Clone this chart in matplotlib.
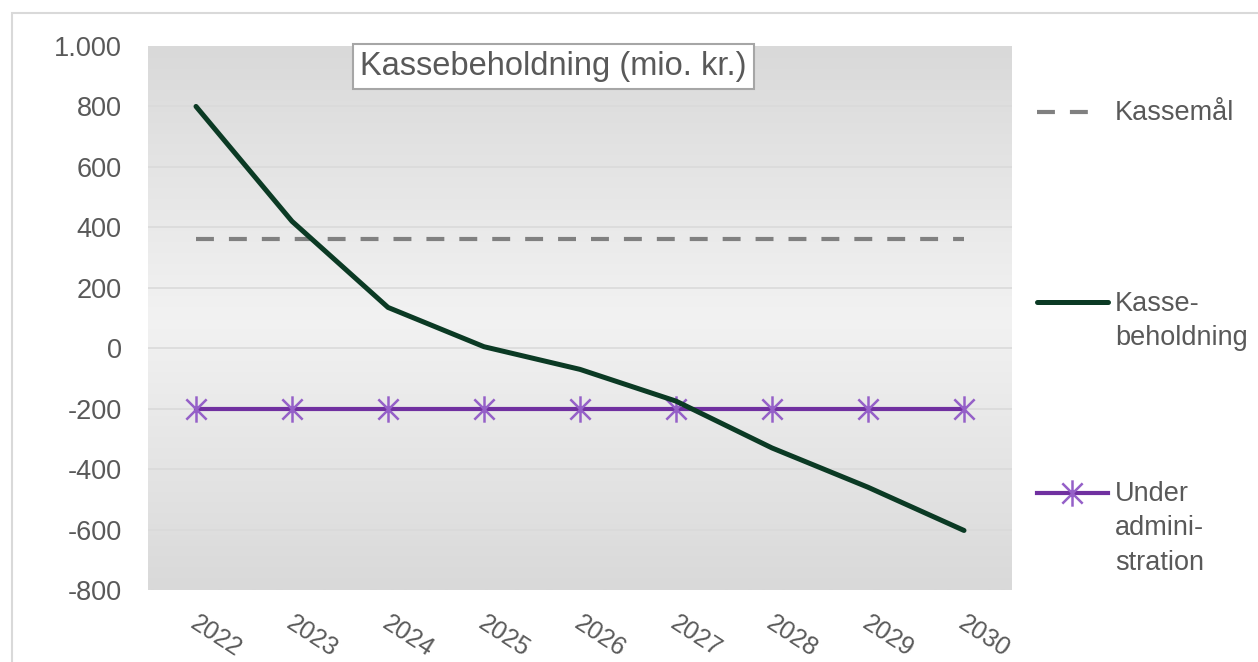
import numpy as np
import matplotlib
matplotlib.use("Agg")
import matplotlib.pyplot as plt
from matplotlib.colors import LinearSegmentedColormap
from matplotlib.lines import Line2D
from matplotlib.patches import Rectangle
from matplotlib.path import Path
from matplotlib.ticker import FuncFormatter
from matplotlib.transforms import ScaledTranslation

plt.rcParams["font.family"] = ["Liberation Sans", "DejaVu Sans"]

# data
years = ["2022", "2023", "2024", "2025", "2026", "2027", "2028", "2029", "2030"]
kassebeholdning = [800, 420, 135, 5, -70, -175, -330, -460, -603]
kassemaal = [360] * 9
under_admin = [-200] * 9

text_col = "#595959"
green = "#0b3a24"
purple = "#7030a0"
marker_col = "#9560c8"

fig = plt.figure(figsize=(12.58, 6.62), dpi=100)
fig.patches.append(Rectangle((12 / 1258, -0.05), 1.1, 1 - 13 / 662 + 0.05,
                             transform=fig.transFigure, fill=False,
                             edgecolor="#d9d9d9", lw=1.5))

ax = fig.add_axes([148 / 1258, 1 - 590 / 662, 864 / 1258, 544 / 662])
x = np.arange(len(years))

# gradient plot background: grey at edges, light in the middle
cmap = LinearSegmentedColormap.from_list("bg", ["#d9d9d9", "#f2f2f2", "#d9d9d9"])
grad = np.linspace(0, 1, 256).reshape(-1, 1)
ax.imshow(grad, cmap=cmap, extent=[0, 1, 0, 1], transform=ax.transAxes,
          aspect="auto", zorder=0)

for v in range(-600, 1001, 200):
    ax.axhline(v, color="#dadada", lw=1.2, zorder=1)

# asterisk marker: X plus vertical bar
star = Path([(-1, -1), (1, 1), (-1, 1), (1, -1), (0, -1.3), (0, 1.3)],
            [Path.MOVETO, Path.LINETO, Path.MOVETO, Path.LINETO, Path.MOVETO, Path.LINETO])

ax.plot(x, kassemaal, color="#808080", lw=3, dashes=(4.3, 3.6), zorder=2)
ax.plot(x, under_admin, color=purple, lw=3, marker=star, markersize=19,
        markeredgecolor=marker_col, markeredgewidth=1.8, zorder=3)
ax.plot(x, kassebeholdning, color=green, lw=3.6, solid_capstyle="round",
        solid_joinstyle="round", zorder=4)

ax.set_xlim(-0.5, len(years) - 0.5)
ax.set_ylim(-800, 1000)
ax.set_yticks(range(-800, 1001, 200))
ax.yaxis.set_major_formatter(FuncFormatter(lambda v, p: f"{int(v):,}".replace(",", ".")))
ax.set_xticks(x)
ax.set_xticklabels(years, rotation=-33, ha="left", va="top", rotation_mode="anchor")
ax.tick_params(axis="both", length=0, labelsize=19.5, labelcolor=text_col)
ax.tick_params(axis="x", pad=15, labelsize=18)
ax.tick_params(axis="y", pad=19)
for lab in ax.get_xticklabels():
    lab.set_transform(lab.get_transform() + ScaledTranslation(0.03, 0, fig.dpi_scale_trans))
for s in ax.spines.values():
    s.set_visible(False)

ax.text(0.469, 0.962, "Kassebeholdning (mio. kr.)", transform=ax.transAxes,
        ha="center", va="center", fontsize=23.5, color=text_col, zorder=6,
        bbox=dict(boxstyle="square,pad=0.22", facecolor="white", edgecolor="#a6a6a6", lw=1.5))

# legend on the right, drawn by hand
def fx(px):
    return px / 1258

def fy(py):
    return 1 - py / 662

fig.add_artist(Line2D([fx(1037), fx(1090)], [fy(112), fy(112)], color="#808080",
                      lw=3, dashes=(4.3, 3.6)))
fig.text(fx(1115), fy(113), "Kassemål", fontsize=19.5, color=text_col, va="center")

fig.add_artist(Line2D([fx(1037), fx(1108)], [fy(302), fy(302)], color=green,
                      lw=3.6, solid_capstyle="round"))
fig.text(fx(1115), fy(291), "Kasse-\nbeholdning", fontsize=19.5, color=text_col,
         va="top", linespacing=1.42)

fig.add_artist(Line2D([fx(1037), fx(1108)], [fy(493), fy(493)], color=purple, lw=3))
fig.add_artist(Line2D([fx(1072)], [fy(493)], marker=star, markersize=19,
                      markeredgecolor=marker_col, markeredgewidth=1.8, color=purple))
fig.text(fx(1115), fy(481), "Under\nadmini-\nstration", fontsize=19.5, color=text_col,
         va="top", linespacing=1.42)

fig.savefig("out.png", dpi=100)
